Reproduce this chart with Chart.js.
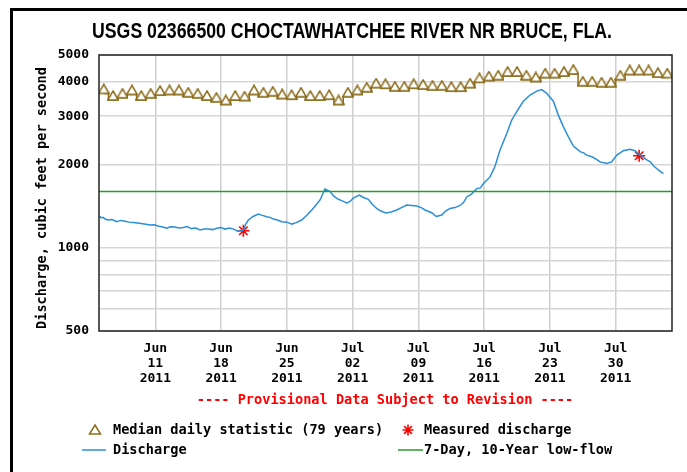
<!DOCTYPE html>
<html>
<head>
<meta charset="utf-8">
<script src="https://cdn.jsdelivr.net/npm/chart.js@4.4.1/dist/chart.umd.min.js"></script>
<style>
  html, body { margin: 0; padding: 0; background: #fff; }
  #wrap { position: relative; width: 687px; height: 472px; overflow: hidden; }
  #chart { position: absolute; left: 0; top: 0; }
</style>
</head>
<body>
<div id="wrap"><canvas id="chart" width="687" height="472"></canvas></div>
<script>
// days counted from 2011-06-05 00:00
const tickDays = [6, 13, 20, 27, 34, 41, 48, 55];
const tickLabels = [
  ['Jun', '11', '2011'], ['Jun', '18', '2011'], ['Jun', '25', '2011'], ['Jul', '02', '2011'],
  ['Jul', '09', '2011'], ['Jul', '16', '2011'], ['Jul', '23', '2011'], ['Jul', '30', '2011']
];
const yTicks = [500, 600, 700, 800, 900, 1000, 2000, 3000, 4000, 5000];
const yLabelled = [500, 1000, 2000, 3000, 4000, 5000];

// median daily statistic, one value per day (Jun 5 .. Aug 4)
const medianCfs = [
  3630, 3435, 3500, 3600, 3435, 3500, 3580, 3600, 3600, 3530,
  3500, 3435, 3385, 3310, 3435, 3420, 3600, 3530, 3560, 3480,
  3460, 3530, 3435, 3435, 3460, 3310, 3530, 3600, 3680, 3810,
  3790, 3710, 3710, 3790, 3770, 3740, 3740, 3700, 3700, 3810,
  3980, 4040, 4070, 4200, 4200, 4070, 4010, 4140, 4140, 4200,
  4270, 3870, 3870, 3840, 3840, 4070, 4250, 4250, 4250, 4160,
  4140
];

// discharge (provisional)
const dischargeDay = [
  0.03, 0.25, 0.43, 0.7, 0.96, 1.4, 1.88, 2.3, 2.77, 3.2, 3.65, 4.1, 4.47, 5.0, 5.43, 5.9, 6.28, 6.8, 7.21,
  7.6, 8.09, 8.5, 8.97, 9.4, 9.79, 10.3, 10.75, 11.2, 11.6, 12.1, 12.53, 13.0, 13.41, 13.9, 14.3, 14.8, 15.36,
  15.6, 15.9, 16.4, 16.96, 17.4, 17.85, 18.2, 18.56, 19.0, 19.45, 20.0, 20.52, 21.0, 21.58, 22.1, 22.65, 23.1, 23.53, 24.06,
  24.6, 25.0, 25.48, 25.9, 26.37, 26.7, 27.07, 27.71, 28.2, 28.67, 29.1, 29.56, 30.0, 30.55, 31.1, 31.69, 32.2, 32.76,
  33.3, 33.82, 34.3, 34.71, 35.1, 35.45, 35.9, 36.48, 36.9, 37.37, 37.9, 38.43, 38.8, 39.15, 39.68, 40.21, 40.6, 40.91,
  41.63, 42.16, 42.69, 43.4, 43.94, 44.47, 45.17, 45.89, 46.6, 47.13,
  47.66, 48.37, 48.9, 49.43, 49.96, 50.5, 51.21, 51.6, 51.92, 52.3, 52.62, 53.0, 53.34,
  54.05, 54.58, 55.12, 55.82, 56.53, 57.06, 57.6, 58.31, 58.7, 59.02, 59.55,
  60.08
];
const dischargeCfs = [
  1305, 1285, 1290, 1270, 1262, 1268, 1245, 1258, 1250, 1240, 1235, 1230, 1225, 1218, 1210, 1212, 1200, 1190, 1178,
  1192, 1190, 1180, 1186, 1195, 1175, 1180, 1161, 1170, 1172, 1165, 1178, 1185, 1170, 1180, 1170, 1150, 1161,
  1215, 1262, 1300, 1327, 1312, 1298, 1290, 1272, 1262, 1245, 1240, 1220, 1235, 1262, 1310, 1372, 1430, 1492, 1634,
  1600, 1540, 1500, 1480, 1455, 1470, 1515, 1555, 1520, 1500, 1440, 1390, 1360, 1338, 1350, 1372, 1400, 1430,
  1425, 1418, 1400, 1372, 1355, 1338, 1300, 1316, 1360, 1390, 1400, 1425, 1460, 1530, 1570, 1640, 1650, 1707,
  1808, 1975, 2264, 2594, 2908, 3116, 3400, 3581, 3700, 3745,
  3630, 3400, 3028, 2750, 2530, 2340, 2232, 2210, 2168, 2150, 2126, 2090, 2050,
  2022, 2050, 2168, 2250, 2275, 2250, 2168, 2083, 2050, 1985, 1916,
  1860
];

const measuredDay = [15.37, 57.5];
const measuredCfs = [1154, 2158];

const lowFlowCfs = 1600; // 7-Day, 10-Year low-flow

const BROWN = '#8c6d1c';
const BLUE = '#2a8fd8';
const GREEN = '#2a9a2a';
const RED = '#ff0000';
const MONO = '"DejaVu Sans Mono", monospace';

// triangle marker, base sits on the point
function makeTriangle() {
  const c = document.createElement('canvas');
  c.width = 12; c.height = 20;
  const g = c.getContext('2d');
  g.beginPath();
  g.moveTo(6, 1); g.lineTo(11.3, 10); g.lineTo(0.7, 10); g.closePath();
  g.fillStyle = '#fff'; g.fill();
  g.strokeStyle = BROWN; g.lineWidth = 1.5; g.stroke();
  return c;
}
const tri = makeTriangle();

function drawTri(ctx, x, baseY) {
  ctx.save();
  ctx.beginPath();
  ctx.moveTo(x, baseY - 9); ctx.lineTo(x + 5.5, baseY); ctx.lineTo(x - 5.5, baseY); ctx.closePath();
  ctx.strokeStyle = BROWN; ctx.lineWidth = 1.5; ctx.stroke();
  ctx.restore();
}

function drawStar(ctx, x, y, r) {
  ctx.save();
  ctx.strokeStyle = RED; ctx.lineWidth = 1.6;
  ctx.beginPath();
  for (let i = 0; i < 4; i++) {
    const a = i * Math.PI / 4;
    ctx.moveTo(x - r * Math.cos(a), y - r * Math.sin(a));
    ctx.lineTo(x + r * Math.cos(a), y + r * Math.sin(a));
  }
  ctx.stroke();
  ctx.restore();
}

const decorPlugin = {
  id: 'decor',
  afterDraw(chart) {
    const ctx = chart.ctx;
    const a = chart.chartArea;
    ctx.save();

    // outer frame (left and top edges)
    ctx.fillStyle = '#000';
    ctx.fillRect(10, 8, 3, 472);
    ctx.fillRect(10, 8, 687, 3);

    // plot border
    ctx.strokeStyle = '#222';
    ctx.lineWidth = 1.5;
    ctx.strokeRect(a.left, a.top, a.right - a.left, a.bottom - a.top);

    // title
    ctx.fillStyle = '#000';
    ctx.font = 'bold 22px "Liberation Sans Narrow", "Liberation Sans", sans-serif';
    ctx.textBaseline = 'alphabetic';
    const title = 'USGS 02366500 CHOCTAWHATCHEE RIVER NR BRUCE, FLA.';
    const tw = ctx.measureText(title).width;
    ctx.save();
    ctx.translate(352, 37.5);
    ctx.scale(520 / tw, 1);
    ctx.textAlign = 'center';
    ctx.fillText(title, 0, 0);
    ctx.restore();

    // y axis title
    ctx.save();
    ctx.translate(42, 198);
    ctx.rotate(-Math.PI / 2);
    ctx.font = 'bold 13.6px ' + MONO;
    ctx.textAlign = 'center';
    ctx.textBaseline = 'middle';
    ctx.fillText('Discharge, cubic feet per second', 0, 0);
    ctx.restore();

    // provisional note
    ctx.font = 'bold 13.6px ' + MONO;
    ctx.textBaseline = 'middle';
    ctx.textAlign = 'center';
    ctx.fillStyle = RED;
    ctx.fillText('---- Provisional Data Subject to Revision ----', 385, 400);

    // legend
    ctx.textAlign = 'left';
    ctx.fillStyle = '#000';
    drawTri(ctx, 95, 434);
    ctx.fillText('Median daily statistic (79 years)', 113, 430);
    drawStar(ctx, 408, 430, 5.5);
    ctx.fillText('Measured discharge', 424, 430);

    ctx.strokeStyle = BLUE; ctx.lineWidth = 1.5;
    ctx.beginPath(); ctx.moveTo(82, 450); ctx.lineTo(106, 450); ctx.stroke();
    ctx.fillText('Discharge', 113, 450);
    ctx.strokeStyle = GREEN;
    ctx.beginPath(); ctx.moveTo(398, 450); ctx.lineTo(423, 450); ctx.stroke();
    ctx.fillText('7-Day, 10-Year low-flow', 424, 450);

    ctx.restore();
  }
};

const ctx = document.getElementById('chart').getContext('2d');
new Chart(ctx, {
  type: 'line',
  data: {
    datasets: [
      {
        label: '7-Day, 10-Year low-flow',
        data: [{ x: 0, y: lowFlowCfs }, { x: 61, y: lowFlowCfs }],
        borderColor: GREEN, borderWidth: 1.5, pointRadius: 0
      },
      {
        label: 'Median daily statistic (79 years)',
        data: medianCfs.map((v, i) => ({ x: i + 0.5, y: v })),
        stepped: 'middle',
        borderColor: BROWN, borderWidth: 1.5,
        pointStyle: tri, pointRadius: 6
      },
      {
        label: 'Discharge',
        data: dischargeDay.map((d, i) => ({ x: d, y: dischargeCfs[i] })),
        borderColor: BLUE, borderWidth: 1.5, pointRadius: 0, tension: 0
      },
      {
        label: 'Measured discharge',
        data: measuredDay.map((d, i) => ({ x: d, y: measuredCfs[i] })),
        showLine: false,
        pointStyle: 'star', pointRadius: 6,
        borderColor: RED, borderWidth: 1.6, backgroundColor: RED
      }
    ]
  },
  options: {
    responsive: false,
    animation: false,
    devicePixelRatio: 1,
    layout: { padding: { top: 55, right: 15, left: 0, bottom: 0 } },
    plugins: { legend: { display: false }, tooltip: { enabled: false }, title: { display: false } },
    scales: {
      x: {
        type: 'linear', min: 0, max: 61,
        afterBuildTicks: s => { s.ticks = tickDays.map(v => ({ value: v })); },
        afterFit: s => { s.height = 141; },
        ticks: {
          autoSkip: false, maxRotation: 0, padding: 10,
          color: '#000',
          font: { family: MONO, weight: 'bold', size: 13, lineHeight: 1.15 },
          callback: (v) => tickLabels[tickDays.indexOf(v)] || ''
        },
        grid: { color: '#cfcfcf', lineWidth: 1.5, drawTicks: false },
        border: { display: false }
      },
      y: {
        type: 'logarithmic', min: 500, max: 5000,
        afterBuildTicks: s => { s.ticks = yTicks.map(v => ({ value: v })); },
        afterFit: s => { s.width = 99; },
        ticks: {
          autoSkip: false, padding: 10,
          color: '#000',
          font: { family: MONO, weight: 'bold', size: 13 },
          callback: (v) => yLabelled.includes(v) ? String(v) : ''
        },
        grid: { color: '#d6d6d6', lineWidth: 1.5, drawTicks: false },
        border: { display: false }
      }
    }
  },
  plugins: [decorPlugin]
});
</script>
</body>
</html>
